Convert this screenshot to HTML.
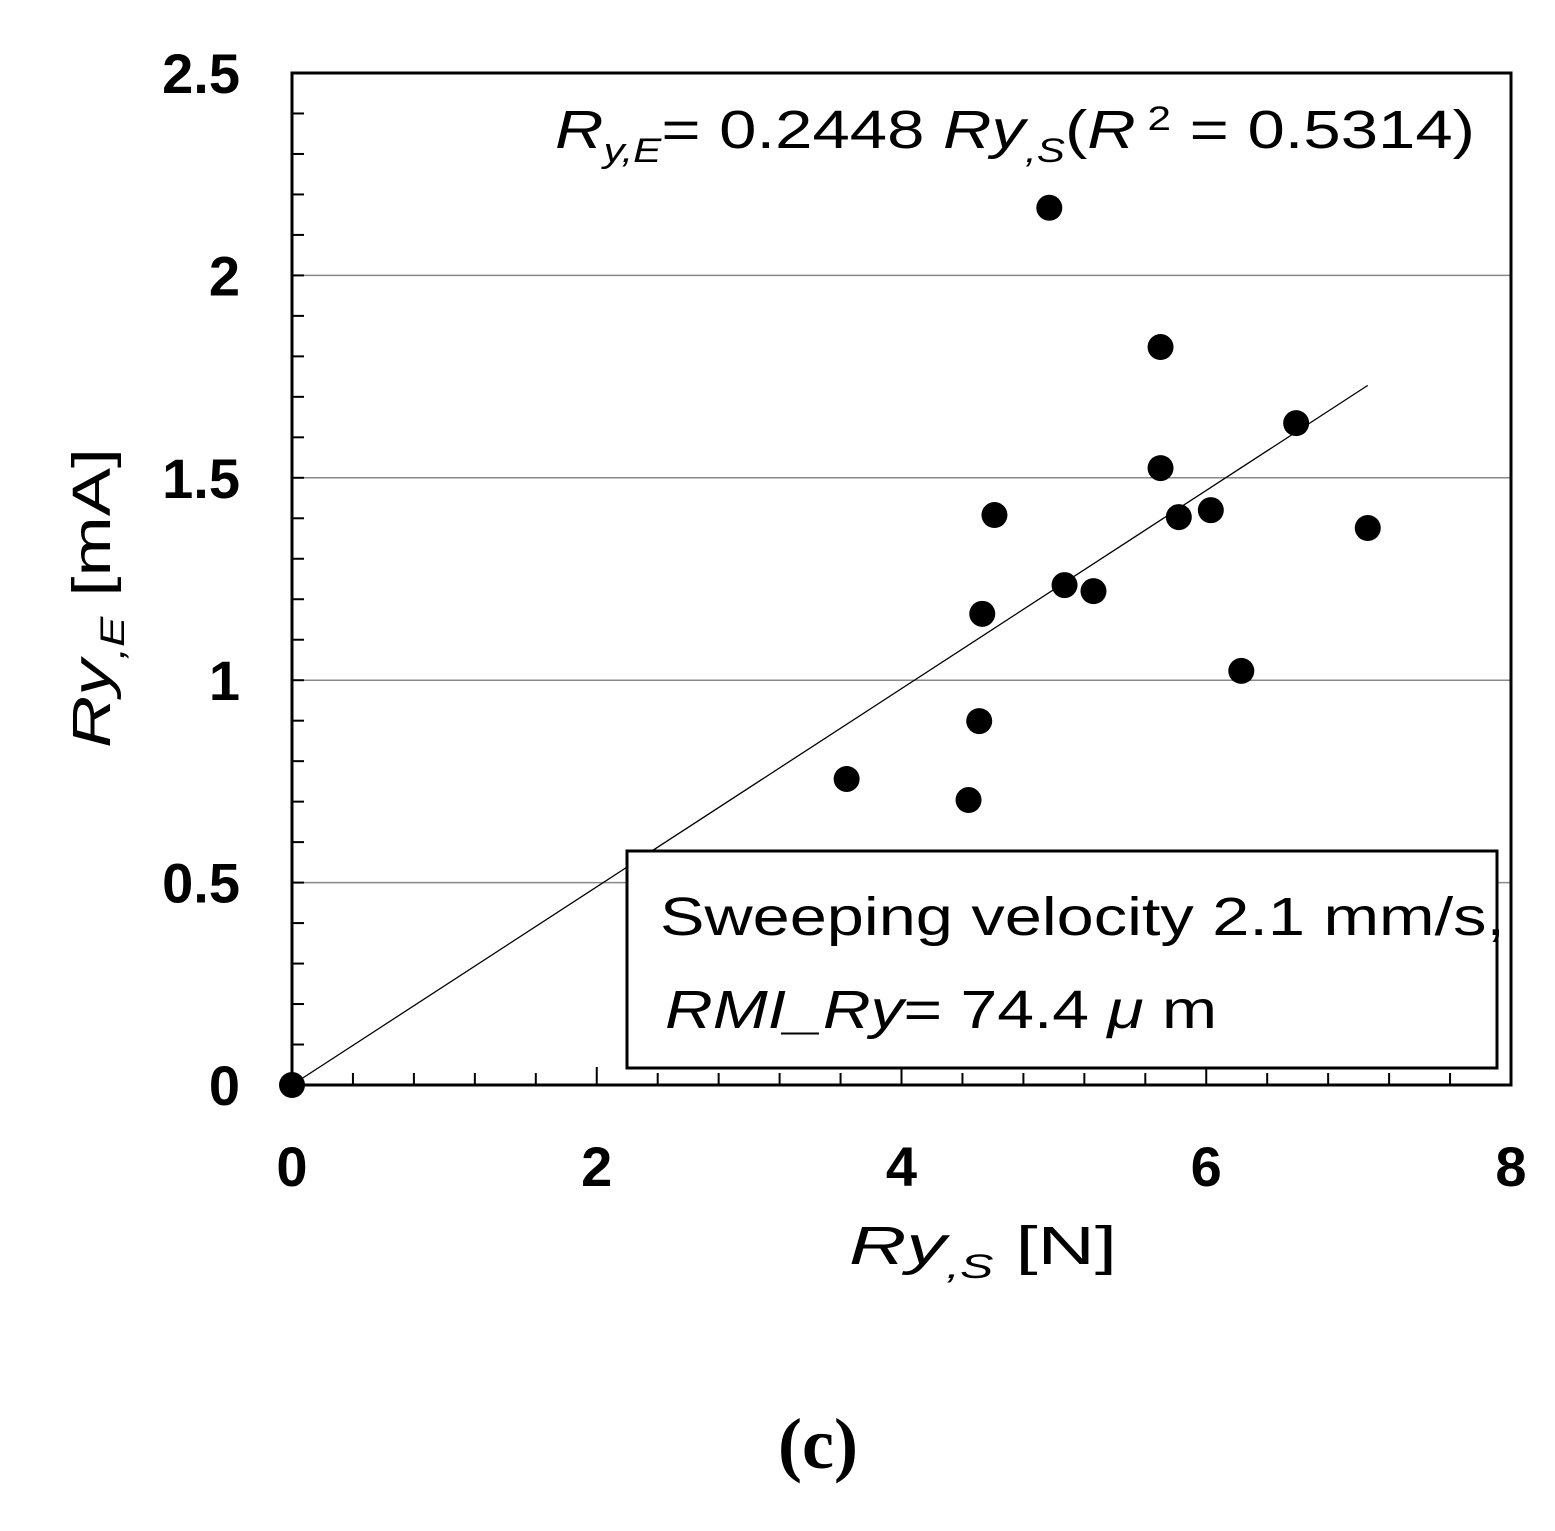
<!DOCTYPE html>
<html><head><meta charset="utf-8"><style>
body{margin:0;background:#fff}
svg{display:block;font-family:"Liberation Sans","Noto Sans CJK JP",sans-serif}
</style></head><body>
<svg id="chart" width="1555" height="1531" viewBox="0 0 1555 1531">
<g id="grid"></g>
<g id="ticks"></g>
<line id="fit" stroke="#000" stroke-width="1.3"/>
<g id="pts"></g>
<rect x="292" y="73" width="1219" height="1012" fill="none" stroke="#000" stroke-width="3"/>
<g id="labels" font-weight="bold" font-size="56"></g>
<text x="555" y="148" font-size="54" textLength="920" lengthAdjust="spacingAndGlyphs"><tspan font-style="italic">R</tspan><tspan font-style="italic" font-size="34" dy="14">y,E</tspan><tspan dy="-14">= 0.2448 </tspan><tspan font-style="italic">Ry</tspan><tspan font-style="italic" font-size="34" dy="14">,S</tspan><tspan dy="-14">(</tspan><tspan font-style="italic">R</tspan><tspan font-size="34" dy="-18"> 2</tspan><tspan dy="18"> = 0.5314)</tspan></text>
<rect x="627" y="851" width="870" height="217" fill="#fff" stroke="#000" stroke-width="3"/>
<text x="660" y="935" font-size="54" textLength="845" lengthAdjust="spacingAndGlyphs">Sweeping velocity 2.1 mm/s,</text>
<text x="665" y="1028" font-size="54" textLength="552" lengthAdjust="spacingAndGlyphs"><tspan font-style="italic">RMI_Ry</tspan>= 74.4  <tspan font-style="italic">μ</tspan> m</text>
<text transform="translate(110,598) rotate(-90)" text-anchor="middle" font-size="54" textLength="300" lengthAdjust="spacingAndGlyphs"><tspan font-style="italic">Ry</tspan><tspan font-style="italic" font-size="34" dy="14">,E</tspan><tspan dy="-14">  [mA]</tspan></text>
<text x="983" y="1264" text-anchor="middle" font-size="54" textLength="268" lengthAdjust="spacingAndGlyphs"><tspan font-style="italic">Ry</tspan><tspan font-style="italic" font-size="34" dy="14">,S</tspan><tspan dy="-14">    [N]</tspan></text>
<text x="818" y="1468" text-anchor="middle" font-size="72" font-weight="bold" font-family="Liberation Serif,serif">(c)</text>
</svg>
<script>
const xVals=[0,3.64,4.44,4.51,4.53,4.61,4.97,5.07,5.26,5.70,5.70,5.82,6.03,6.23,6.59,7.06];
const yVals=[0,0.756,0.704,0.899,1.164,1.408,2.167,1.235,1.220,1.823,1.524,1.403,1.420,1.023,1.635,1.376];
const slope=[0.2448];
const xTicks=[0,2,4,6,8];
const yTicks=[0,0.5,1,1.5,2,2.5];
const ns="http://www.w3.org/2000/svg";
const X=v=>292+v*152.375, Y=v=>1085-v*404.8;
function mk(t,a,p){const e=document.createElementNS(ns,t);for(const k in a)e.setAttribute(k,a[k]);p.appendChild(e);return e;}
const grid=document.getElementById('grid'),ticks=document.getElementById('ticks'),labels=document.getElementById('labels'),pts=document.getElementById('pts');
yTicks.forEach(v=>{if(v>0&&v<2.5){const l=mk('line',{x1:292,x2:1511,y1:Y(v),y2:Y(v),stroke:'#888','stroke-width':1.5},grid);

}
const t=mk('text',{x:240,y:Y(v)+20,'text-anchor':'end'},labels);t.textContent=v;

});
xTicks.forEach(v=>{const t=mk('text',{x:X(v),y:1186,'text-anchor':'middle'},labels);t.textContent=v;

});
for(let v=0.4;v<8;v+=0.4){const big=Math.abs(v/2-Math.round(v/2))<1e-6;mk('line',{x1:X(v),x2:X(v),y1:1085,y2:1085-(big?18:12),stroke:'#000','stroke-width':2},ticks);}
for(let v=0.1;v<2.5;v+=0.1){mk('line',{x1:292,x2:304,y1:Y(v),y2:Y(v),stroke:'#000','stroke-width':2},ticks);}
const xmax=Math.max(...xVals);
const f=document.getElementById('fit');f.setAttribute('x1',X(0));f.setAttribute('y1',Y(0));f.setAttribute('x2',X(xmax));f.setAttribute('y2',Y(slope[0]*xmax));
xVals.forEach((x,i)=>{const c=mk('circle',{cx:X(x),cy:Y(yVals[i]),r:13,fill:'#000'},pts);

});
</script>
</body></html>
